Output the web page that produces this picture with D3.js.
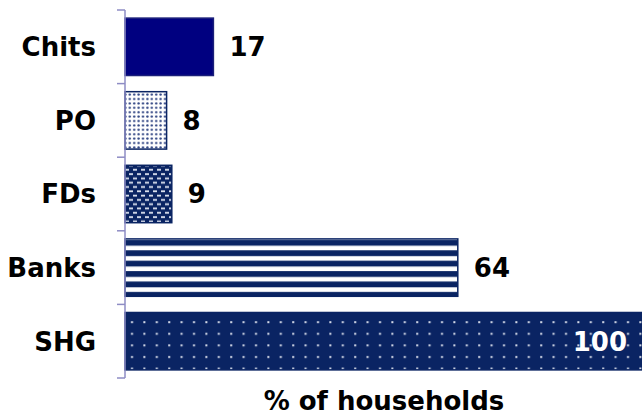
<!DOCTYPE html>
<html>
<head>
<meta charset="utf-8">
<script src="https://cdn.jsdelivr.net/npm/d3@7/dist/d3.min.js"></script>
<style>
  html, body { margin: 0; padding: 0; background: #fff; }
  svg { display: block; }
  text { font-family: "DejaVu Sans", sans-serif; font-weight: bold; }
</style>
</head>
<body>
<svg id="chart" width="642" height="418"></svg>
<script>
const categories = ["Chits", "PO", "FDs", "Banks", "SHG"];
const values = [17, 8, 9, 64, 100];
const fills = ["solid", "dotsLight", "dashes", "stripes", "dotsDark"];
const axisTitle = "% of households";

const W = 642, H = 418;
const svg = d3.select("#chart");
const navy = "#0a2463";

const defs = svg.append("defs");
// PO: white with navy dots
const p1 = defs.append("pattern").attr("id", "dotsLight").attr("patternUnits", "userSpaceOnUse")
  .attr("width", 4.4).attr("height", 4.4);
p1.append("rect").attr("width", 4.4).attr("height", 4.4).attr("fill", "#fff");
p1.append("circle").attr("cx", 2.2).attr("cy", 2.2).attr("r", 1.2).attr("fill", "#2a3f80");
// FDs: navy with white dashes staggered
const p2 = defs.append("pattern").attr("id", "dashes").attr("patternUnits", "userSpaceOnUse")
  .attr("width", 8).attr("height", 8.6);
p2.append("rect").attr("width", 8).attr("height", 8.6).attr("fill", navy);
p2.append("rect").attr("x", 1).attr("y", 1.2).attr("width", 4).attr("height", 1.8).attr("fill", "#dfe4f0");
p2.append("rect").attr("x", 5).attr("y", 5.5).attr("width", 4).attr("height", 1.8).attr("fill", "#dfe4f0");
p2.append("rect").attr("x", -3).attr("y", 5.5).attr("width", 4).attr("height", 1.8).attr("fill", "#dfe4f0");
// Banks: horizontal stripes
const p3 = defs.append("pattern").attr("id", "stripes").attr("patternUnits", "userSpaceOnUse")
  .attr("width", 10).attr("height", 10.4).attr("y", 2.5);
p3.append("rect").attr("width", 10).attr("height", 10.4).attr("fill", navy);
p3.append("rect").attr("y", 4).attr("width", 10).attr("height", 4.6).attr("fill", "#fff");
// SHG: navy with white dot grid
const p4 = defs.append("pattern").attr("id", "dotsDark").attr("patternUnits", "userSpaceOnUse")
  .attr("width", 12.4).attr("height", 11.6).attr("x", 2).attr("y", 4);
p4.append("rect").attr("width", 12.4).attr("height", 11.6).attr("fill", navy);
p4.append("rect").attr("x", 5).attr("y", 4).attr("width", 2).attr("height", 2).attr("fill", "#d8ddea");

const x = d3.scaleLinear().domain([0, 100]).range([125, 645]);
const y = d3.scaleBand().domain(categories).range([10, 378]).paddingInner(0.22).paddingOuter(0.11);

const data = categories.map((c, i) => ({ c, v: values[i], f: fills[i] }));

// bars
svg.append("g").selectAll("rect").data(data).join("rect")
  .attr("x", x(0))
  .attr("y", d => y(d.c))
  .attr("width", d => x(d.v) - x(0))
  .attr("height", y.bandwidth())
  .attr("fill", d => d.f === "solid" ? "#000080" : `url(#${d.f})`)
  .attr("stroke", d => d.f === "solid" ? "#1a1f7a" : navy)
  .attr("stroke-width", 1.5);

// axis line and separator ticks
const axisColor = "#8e8cc4";
const step = y.step();
const r0 = y.range()[0];
svg.append("line").attr("x1", 125).attr("x2", 125).attr("y1", r0).attr("y2", y.range()[1])
  .attr("stroke", axisColor).attr("stroke-width", 1.5);
svg.append("g").selectAll("line").data(d3.range(categories.length + 1)).join("line")
  .attr("x1", 117).attr("x2", 125)
  .attr("y1", i => r0 + i * step).attr("y2", i => r0 + i * step)
  .attr("stroke", axisColor).attr("stroke-width", 1.5);

// category labels
svg.append("g").selectAll("text").data(data).join("text")
  .attr("x", 96)
  .attr("y", d => y(d.c) + y.bandwidth() / 2)
  .attr("dy", "0.36em")
  .attr("text-anchor", "end")
  .attr("font-size", 26)
  .attr("fill", "#000")
  .text(d => d.c);

// value labels
svg.append("g").selectAll("text").data(data).join("text")
  .attr("x", d => d.v >= 100 ? 627 : x(d.v) + 16)
  .attr("y", d => y(d.c) + y.bandwidth() / 2)
  .attr("dy", "0.36em")
  .attr("text-anchor", d => d.v >= 100 ? "end" : "start")
  .attr("font-size", 26)
  .attr("fill", d => d.v >= 100 ? "#fff" : "#000")
  .text(d => d.v);

// axis title
svg.append("text")
  .attr("x", 384).attr("y", 410)
  .attr("text-anchor", "middle")
  .attr("font-size", 26)
  .attr("fill", "#000")
  .text(axisTitle);
</script>
</body>
</html>
